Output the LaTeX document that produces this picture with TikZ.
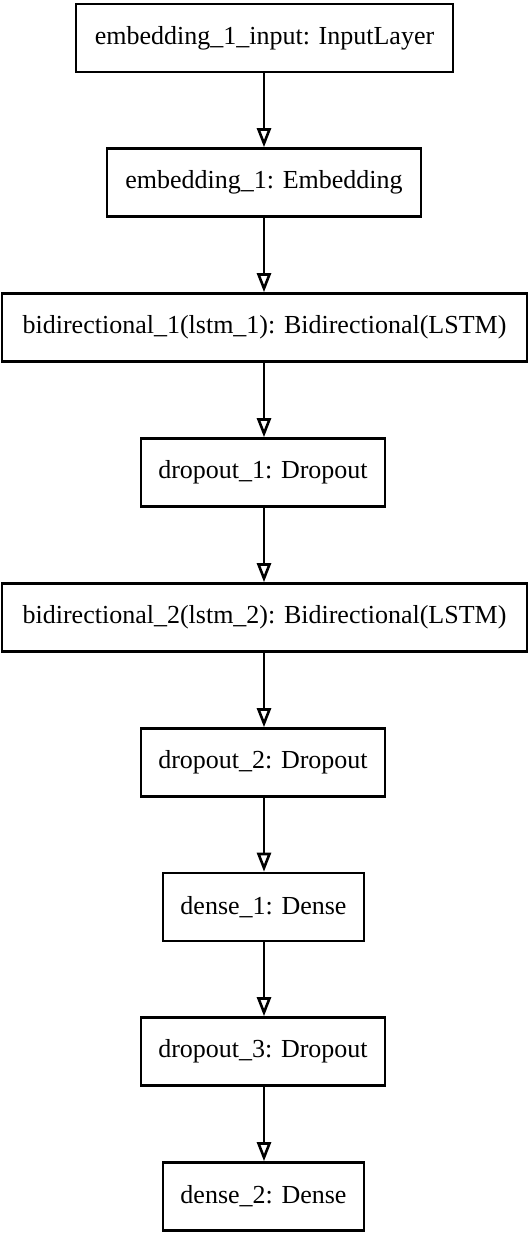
\documentclass[tikz,border=0pt]{standalone}
\usepackage{fontspec}
\setmainfont{Liberation Serif}
\usetikzlibrary{arrows.meta}
\begin{document}
\begin{tikzpicture}[x=1pt,y=1pt,
  layer/.style={draw, line width=2.6pt, minimum height=68pt, inner sep=0pt, font=\fontsize{26}{30}\selectfont},
  conn/.style={line width=2.6pt, -{Triangle[open,length=19pt,width=14pt,line width=2.6pt]}}]
\useasboundingbox (0,0) rectangle (530,-1234);
\node[layer, minimum width=377pt] (n1) at (264.5,-38) {embedding\_1\_input: InputLayer};
\node[layer, minimum width=314pt] (n2) at (264,-182.5) {embedding\_1: Embedding};
\node[layer, minimum width=525pt] (n3) at (264.5,-327.5) {bidirectional\_1(lstm\_1): Bidirectional(LSTM)};
\node[layer, minimum width=244pt] (n4) at (263,-472.5) {dropout\_1: Dropout};
\node[layer, minimum width=525pt] (n5) at (264.5,-617.5) {bidirectional\_2(lstm\_2): Bidirectional(LSTM)};
\node[layer, minimum width=244pt] (n6) at (263,-762.5) {dropout\_2: Dropout};
\node[layer, minimum width=201pt] (n7) at (263.5,-907) {dense\_1: Dense};
\node[layer, minimum width=244pt] (n8) at (263,-1051.5) {dropout\_3: Dropout};
\node[layer, minimum width=201pt] (n9) at (263.5,-1196.5) {dense\_2: Dense};
\foreach \a/\b in {n1/n2,n2/n3,n3/n4,n4/n5,n5/n6,n6/n7,n7/n8,n8/n9}
  \draw[conn] (\a.south -| 264,0) -- (\b.north -| 264,0);
\end{tikzpicture}
\end{document}
